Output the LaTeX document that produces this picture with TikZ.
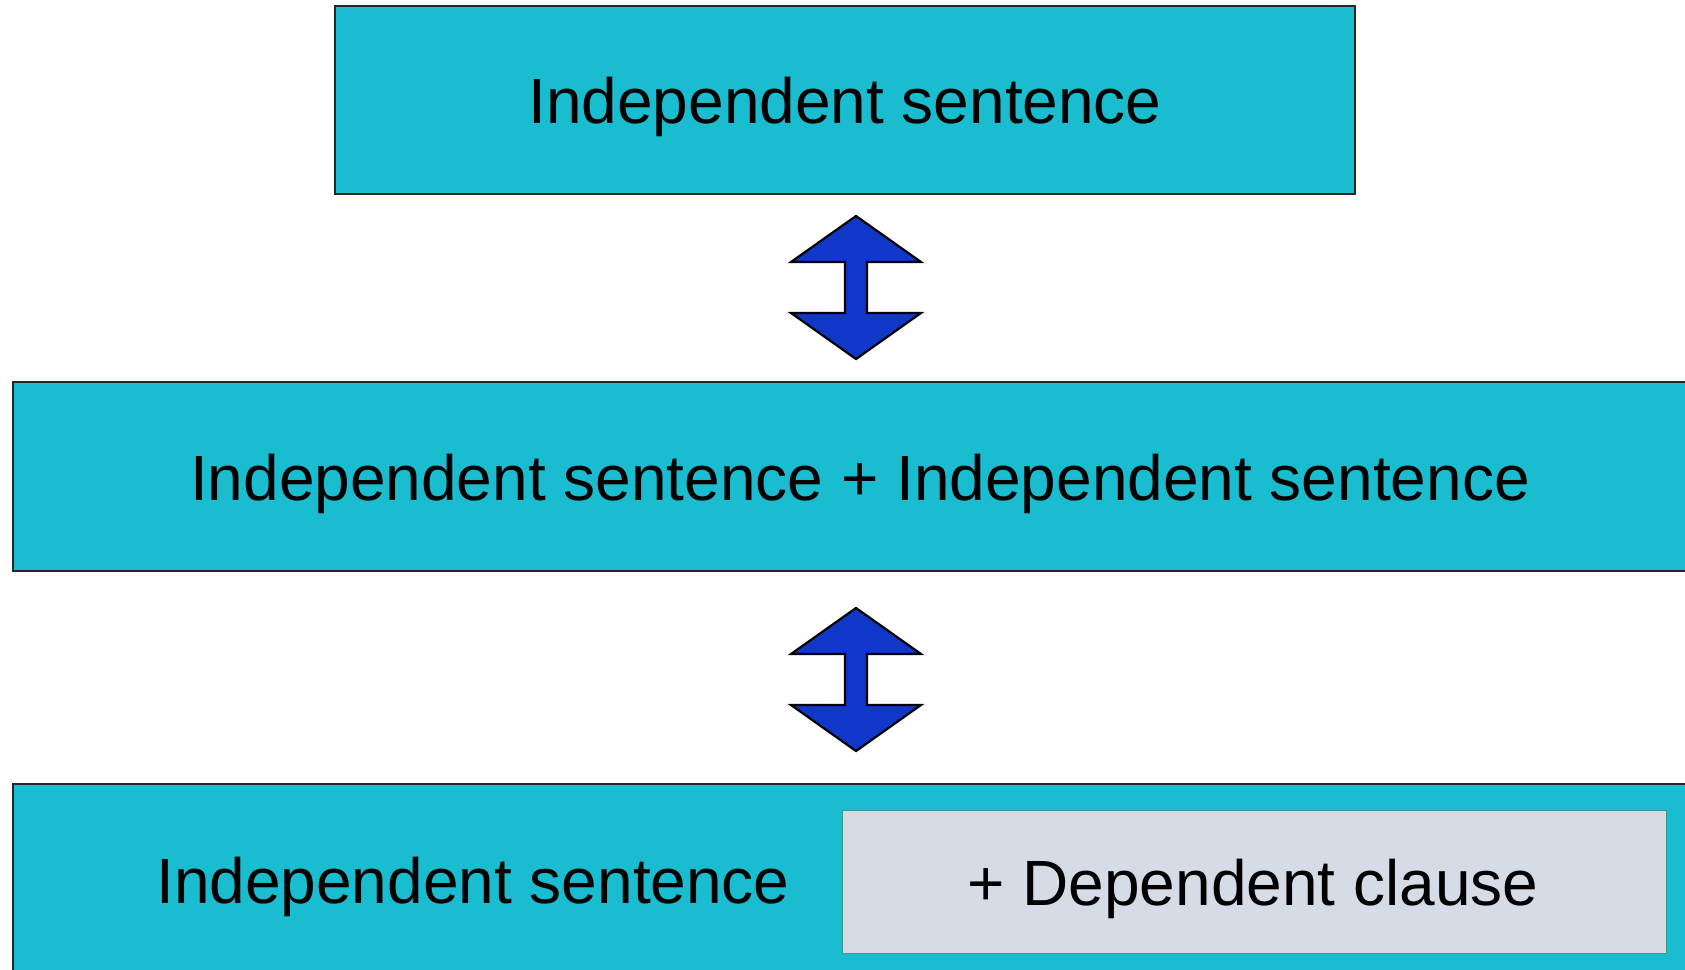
\documentclass[tikz,border=0pt]{standalone}
\usepackage{fontspec}
\setmainfont{Liberation Sans}
\definecolor{boxcyan}{HTML}{1ABDD0}
\definecolor{arrowblue}{HTML}{1038C8}
\definecolor{clausegrey}{HTML}{D5DCE6}
\definecolor{clauseedge}{HTML}{3A9A8A}
\tikzset{
  sentbox/.style={draw=black!85, line width=1.2pt, fill=boxcyan, inner sep=0pt},
  clausebox/.style={draw=clauseedge, line width=1pt, fill=clausegrey, inner sep=0pt},
  bigtext/.style={font=\fontsize{64}{76}\selectfont, text=black},
  dblarrow/.style={draw=black, line width=2.2pt, line join=miter, fill=arrowblue}
}
\newcommand{\twowayarrow}[1]{%
  \draw[dblarrow] (#1) ++(0,-71.5) -- ++(65,46) -- ++(-54,0) -- ++(0,51)
    -- ++(54,0) -- ++(-65,46) -- ++(-65,-46) -- ++(54,0) -- ++(0,-51)
    -- ++(-54,0) -- cycle;}
\begin{document}
\begin{tikzpicture}[x=1pt,y=-1pt]
  \useasboundingbox (0,0) rectangle (1685,969);

  % the three sentence boxes
  \node[sentbox, minimum width=1020pt, minimum height=188pt] (top) at (845,100) {};
  \node[bigtext] (toptext) at (845,107) {Independent sentence};

  \node[sentbox, minimum width=1700pt, minimum height=189pt] (mid) at (863,476.5) {};
  \node[bigtext] (midtext) at (860,484) {Independent sentence + Independent sentence};

  \node[sentbox, minimum width=1700pt, minimum height=220pt] (bot) at (863,894) {};
  \node[clausebox, minimum width=824pt, minimum height=143pt] (clause) at (1254,881.5) {};
  \node[bigtext] (bottext) at (473,887) {Independent sentence};
  \node[bigtext] (clausetext) at (1253,889) {+ Dependent clause};

  % the two arrows between the boxes
  \coordinate (arrA) at (856,287.5);
  \coordinate (arrB) at (856,679.5);
  \twowayarrow{arrA}
  \twowayarrow{arrB}
\end{tikzpicture}
\end{document}
